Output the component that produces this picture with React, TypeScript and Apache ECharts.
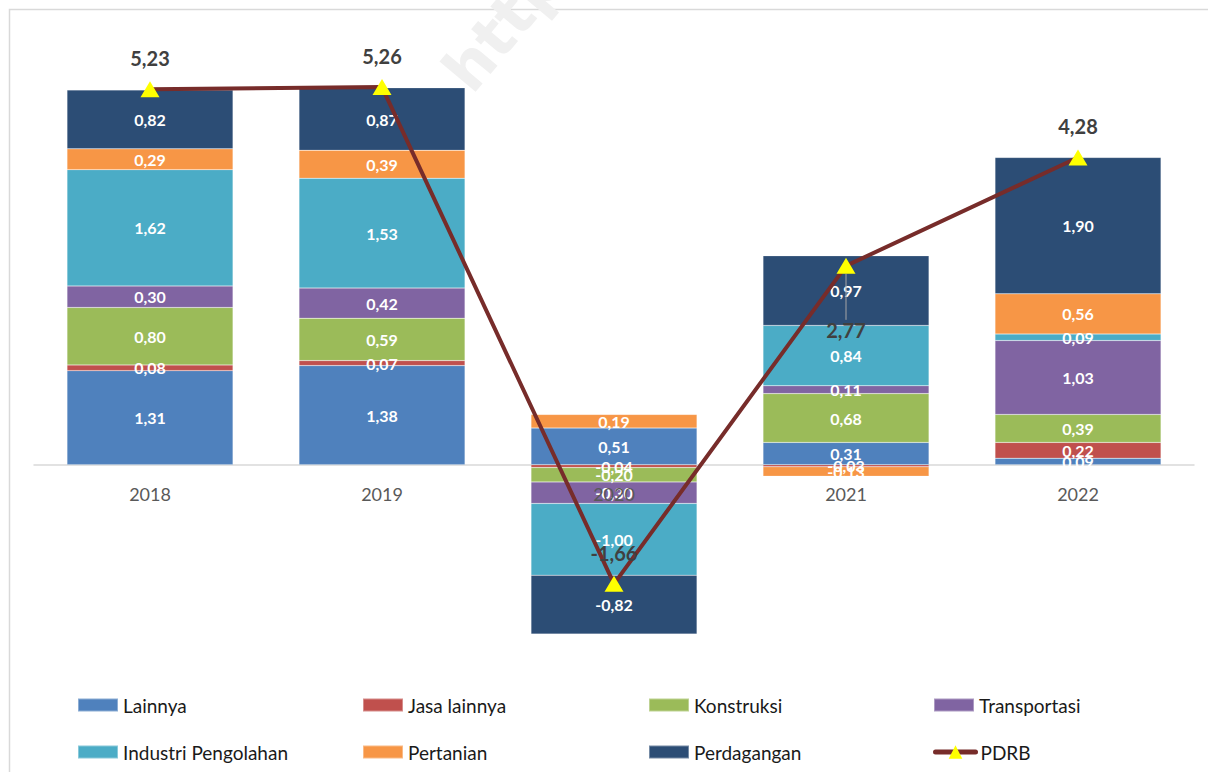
import React, { useEffect, useRef } from "react";
import * as echarts from "echarts";

const years = ["2018", "2019", "2020", "2021", "2022"];
const lainnya = [1.31, 1.38, 0.51, 0.31, 0.09];
const jasaLainnya = [0.08, 0.07, -0.04, -0.03, 0.22];
const konstruksi = [0.8, 0.59, -0.2, 0.68, 0.39];
const transportasi = [0.3, 0.42, -0.3, 0.11, 1.03];
const industri = [1.62, 1.53, -1.0, 0.84, 0.09];
const pertanian = [0.29, 0.39, 0.19, -0.13, 0.56];
const perdagangan = [0.82, 0.87, -0.82, 0.97, 1.9];
const pdrb = [5.23, 5.26, -1.66, 2.77, 4.28];

const Y_MIN = -3;
const Y_MAX = 6;

const FONT = "Lato, 'Open Sans', sans-serif";
const fmt = (v: number) => v.toFixed(2).replace(".", ",");

const barSeries = [
  { name: "Lainnya", data: lainnya, color: "#4F81BD" },
  { name: "Jasa lainnya", data: jasaLainnya, color: "#C0504D" },
  { name: "Konstruksi", data: konstruksi, color: "#9BBB59" },
  { name: "Transportasi", data: transportasi, color: "#8064A2" },
  { name: "Industri Pengolahan", data: industri, color: "#4BACC6" },
  { name: "Pertanian", data: pertanian, color: "#F79646" },
  { name: "Perdagangan", data: perdagangan, color: "#2C4D75" },
];

const legendPos = [
  { name: "Lainnya", left: 77, top: 705 },
  { name: "Jasa lainnya", left: 362, top: 705 },
  { name: "Konstruksi", left: 648, top: 705 },
  { name: "Transportasi", left: 933, top: 705 },
  { name: "Industri Pengolahan", left: 77, top: 752 },
  { name: "Pertanian", left: 362, top: 752 },
  { name: "Perdagangan", left: 648, top: 752 },
  { name: "PDRB", left: 933, top: 752 },
];

export default function App() {
  const ref = useRef<HTMLDivElement>(null);
  useEffect(() => {
    document.body.style.margin = "0";
    const chart = echarts.init(ref.current!, undefined, { renderer: "svg" });
    const gridTop = 34;
    const gridHeight = 646;
    // move the category axis up from the grid bottom to the zero line
    const zeroOffset = -(gridHeight * (0 - Y_MIN)) / (Y_MAX - Y_MIN);

    const series: any[] = barSeries.map((s) => ({
      name: s.name,
      type: "bar",
      stack: "total",
      barWidth: 166,
      data: s.data,
      itemStyle: { color: s.color, borderColor: "rgba(255,255,255,0.35)", borderWidth: 0.5 },
      label: {
        show: true,
        position: "inside",
        color: "#ffffff",
        fontWeight: "bold",
        fontSize: 16,
        fontFamily: FONT,
        formatter: (p: any) => fmt(p.value),
      },
      z: 2,
    }));
    series.push({
      name: "PDRB",
      type: "line",
      z: 5,
      data: pdrb.map((v, i) =>
        i === 3
          ? { value: v, labelLine: { show: true, lineStyle: { color: "#a6a6a6", width: 1 } } }
          : { value: v, labelLine: { show: false } }
      ),
      symbol: "triangle",
      symbolSize: [19, 16],
      itemStyle: { color: "#FFFF00" },
      lineStyle: { color: "#772C2A", width: 4 },
      label: {
        show: true,
        position: "top",
        distance: 13,
        color: "#404040",
        fontWeight: "bold",
        fontSize: 20,
        fontFamily: FONT,
        formatter: (p: any) => fmt(p.value),
      },
      labelLine: { show: false },
      labelLayout: (p: any) => (p.dataIndex === 3 ? { dy: 95 } : {}),
    });

    const legends = legendPos.map((l) => ({
      data: [l.name],
      left: l.left,
      top: l.top - 10,
      padding: 0,
      itemWidth: 40,
      itemHeight: l.name === "PDRB" ? 17 : 13,
      icon: l.name === "PDRB" ? undefined : "rect",
      selectedMode: false,
      ...(l.name === "PDRB"
        ? { lineStyle: { width: 5, color: "#772C2A", cap: "round" } }
        : {}),
      textStyle: { fontSize: 19, fontFamily: FONT, color: "#1a1a1a", lineHeight: 20 },
    }));

    const axisBase = {
      type: "category",
      data: years,
      position: "bottom",
      offset: zeroOffset,
      axisTick: { show: false },
    };

    chart.setOption({
      animation: false,
      backgroundColor: "#ffffff",
      grid: { left: 34, width: 1160, top: gridTop, height: gridHeight },
      xAxis: [
        {
          ...axisBase,
          axisLine: { onZero: false, lineStyle: { color: "#d9d9d9", width: 1.5 } },
          axisLabel: { show: false },
          z: 0,
        },
        {
          ...axisBase,
          axisLine: { show: false, onZero: false },
          axisLabel: { color: "#595959", fontSize: 18, fontFamily: FONT, margin: 20 },
          z: 3,
        },
      ],
      yAxis: {
        type: "value",
        min: Y_MIN,
        max: Y_MAX,
        axisLine: { show: false },
        axisTick: { show: false },
        axisLabel: { show: false },
        splitLine: { show: false },
      },
      legend: legends,
      graphic: [
        {
          type: "rect",
          z: -10,
          shape: { x: 9.5, y: 9.5, width: 1400, height: 1000 },
          style: { fill: "none", stroke: "#d9d9d9", lineWidth: 1.5 },
        },
        {
          type: "text",
          z: -5,
          x: 432,
          y: 62,
          rotation: Math.PI / 3.6,
          style: { text: "http", fill: "#f0f0f0", font: "bold 62px 'DejaVu Sans'" },
        },
      ],
      series,
    });
    return () => chart.dispose();
  }, []);
  return <div ref={ref} style={{ width: 1208, height: 772 }} />;
}
